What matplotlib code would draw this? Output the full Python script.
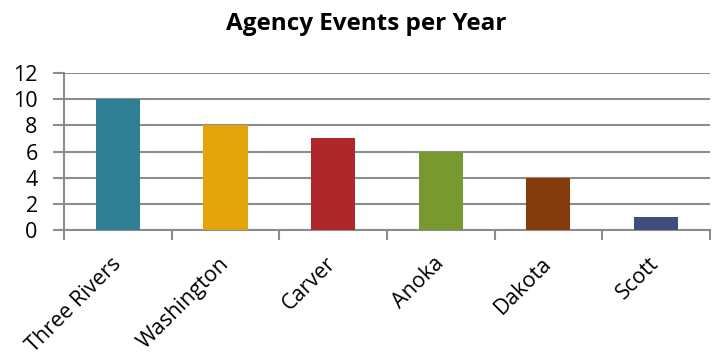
import matplotlib
matplotlib.use("Agg")
import matplotlib.pyplot as plt
import numpy as np

agencies = ["Three Rivers", "Washington", "Carver", "Anoka", "Dakota", "Scott"]
events = [10, 8, 7, 6, 4, 1]
colors = ["#2E7F93", "#E3A30A", "#B0272B", "#77992F", "#843C0C", "#3D4E7A"]

plt.rcParams['font.family'] = ['Open Sans', 'DejaVu Sans']
grid_col = "#8C8C8C"

fig = plt.figure(figsize=(7.17, 3.54), dpi=100)
ax = fig.add_axes([0.0893, 0.350, 0.9007, 0.444])

x = np.arange(len(agencies))
ax.bar(x, events, width=0.41, color=colors, zorder=3)

ax.set_xlim(-0.5, len(agencies) - 0.5)
ax.set_ylim(0, 12)
ax.set_yticks(range(0, 13, 2))
ax.yaxis.grid(True, color=grid_col, linewidth=1.5, zorder=0)

# category boundary ticks on x, names centred under each bar
ax.set_xticks(np.arange(-0.5, len(agencies)), minor=False)
ax.set_xticklabels([])
ax.set_xticks(x, minor=True)
ax.set_xticklabels(agencies, minor=True, rotation=45, ha='right', va='center',
                   rotation_mode='anchor', fontsize=15.5)
ax.tick_params(axis='x', which='minor', length=0, pad=22)
ax.tick_params(axis='x', which='major', length=7, width=1.5, color=grid_col)
ax.tick_params(axis='y', length=8, width=1.5, color=grid_col, labelsize=15.5, pad=11)

for s in ['top', 'right']:
    ax.spines[s].set_visible(False)
for s in ['left', 'bottom']:
    ax.spines[s].set_color(grid_col)
    ax.spines[s].set_linewidth(1.5)

fig.text(0.511, 0.932, "Agency Events per Year", ha='center', va='center',
         fontsize=17.5, fontweight='bold')

fig.savefig("out.png", dpi=100)
